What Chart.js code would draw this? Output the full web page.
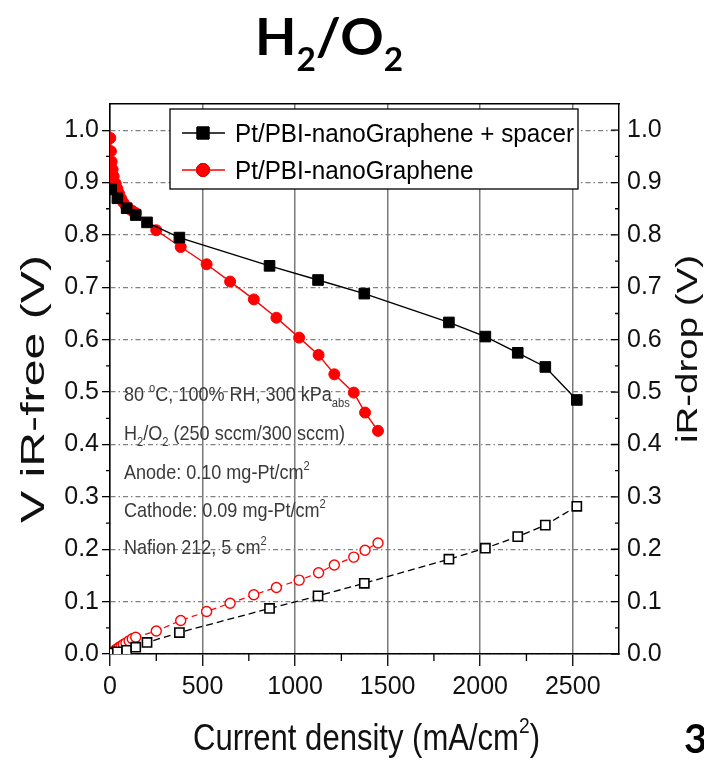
<!DOCTYPE html>
<html>
<head>
<meta charset="utf-8">
<script src="https://cdn.jsdelivr.net/npm/chart.js@4.4.1/dist/chart.umd.min.js"></script>
<style>
  html, body { margin: 0; padding: 0; background: #fff; }
  canvas { display: block; }
</style>
</head>
<body>
<canvas id="grafico" width="704" height="761"></canvas>
<script>
// valores (mA/cm2 e V)
const xSpacer  = [7, 40, 90, 139, 200, 375, 862, 1124, 1374, 1831, 2028, 2203, 2352, 2522];
const vSpacer  = [0.887, 0.870, 0.851, 0.838, 0.824, 0.795, 0.741, 0.714, 0.688, 0.633, 0.606, 0.575, 0.548, 0.485];
const irSpacer = [0.002, 0.004, 0.007, 0.013, 0.022, 0.041, 0.087, 0.111, 0.135, 0.181, 0.202, 0.224, 0.246, 0.282];

const xNano  = [2, 5, 9, 14, 20, 31, 40, 49, 60, 72, 86, 103, 120, 139, 250, 382, 522, 649, 777, 899, 1022, 1127, 1212, 1317, 1378, 1448];
const vNano  = [0.985, 0.960, 0.940, 0.925, 0.912, 0.898, 0.888, 0.879, 0.870, 0.862, 0.855, 0.850, 0.846, 0.842, 0.809, 0.777, 0.744, 0.711, 0.677, 0.642, 0.604, 0.571, 0.534, 0.499, 0.461, 0.426];
const irNano = [0.001, 0.002, 0.003, 0.004, 0.005, 0.008, 0.010, 0.013, 0.015, 0.018, 0.021, 0.025, 0.029, 0.032, 0.044, 0.064, 0.081, 0.097, 0.113, 0.127, 0.141, 0.155, 0.170, 0.185, 0.198, 0.212];

const serieLabels = ["Pt/PBI-nanoGraphene + spacer", "Pt/PBI-nanoGraphene"];
const xTickLabels = ["0", "500", "1000", "1500", "2000", "2500"];
const yTickLabels = ["0.0", "0.1", "0.2", "0.3", "0.4", "0.5", "0.6", "0.7", "0.8", "0.9", "1.0"];

const FONTE = "'Liberation Sans', Arial, sans-serif";
const FONTE_ESTREITA = "'Liberation Sans Narrow', 'Liberation Sans', Arial, sans-serif";

function pontos(xs, ys) {
    return xs.map((x, i) => ({ x: x, y: ys[i] }));
}

// escreve texto com partes sobrescritas/subscritas; devolve a largura
function textoRico(ctx, partes, x, y, tam, familia, peso, escalaX, cor, medir) {
    ctx.save();
    ctx.translate(x, y);
    ctx.scale(escalaX, 1);
    ctx.fillStyle = cor;
    ctx.textAlign = "left";
    ctx.textBaseline = "alphabetic";
    let cx = 0;
    partes.forEach(p => {
        let modo = p[1] || "n";
        let sz = modo === "n" ? tam : tam * 0.62;
        let dy = modo === "sup" ? -tam * 0.45 : (modo === "sub" ? tam * 0.3 : 0);
        ctx.font = peso + " " + sz + "px " + familia;
        if (!medir) ctx.fillText(p[0], cx, dy);
        cx += ctx.measureText(p[0]).width;
    });
    ctx.restore();
    return cx;
}

const notas = [
    [["80 "], ["o", "sup"], ["C, 100% RH, 300 kPa"], ["abs", "sub"]],
    [["H"], ["2", "sub"], ["/O"], ["2", "sub"], [" (250 sccm/300 sccm)"]],
    [["Anode: 0.10 mg-Pt/cm"], ["2", "sup"]],
    [["Cathode: 0.09 mg-Pt/cm"], ["2", "sup"]],
    [["Nafion 212, 5 cm"], ["2", "sup"]]
];
const notasY = [401, 440, 479, 517, 554];

const extras = {
    id: "extras",
    beforeDatasetsDraw(chart) {
        const ctx = chart.ctx;
        const xs = chart.scales.x, ys = chart.scales.y;
        const a = chart.chartArea;
        // ticks menores
        ctx.save();
        ctx.strokeStyle = "#000";
        ctx.lineWidth = 1.3;
        ctx.beginPath();
        for (let v = 250; v < 2750; v += 500) {
            let px = xs.getPixelForValue(v);
            ctx.moveTo(px, a.bottom); ctx.lineTo(px, a.bottom + 7);
        }
        for (let i = 0; i <= 20; i++) {
            let py = ys.getPixelForValue(i * 0.05);
            let maior = i % 2 === 0;
            if (!maior) { ctx.moveTo(a.left, py); ctx.lineTo(a.left - 4, py); }
            ctx.moveTo(a.right, py); ctx.lineTo(a.right - (maior ? 8 : 4), py);
        }
        ctx.stroke();
        ctx.restore();

        // notas de condições
        const escala = 221 / textoRico(ctx, notas[1], 0, 0, 21, FONTE, "normal", 1, "#333", true);
        notas.forEach((n, i) => textoRico(ctx, n, 124, notasY[i], 21, FONTE, "normal", escala, "#3a3a3a"));
    },
    afterDraw(chart) {
        const ctx = chart.ctx;
        // legenda
        ctx.save();
        ctx.fillStyle = "#fff";
        ctx.fillRect(170, 109, 408, 80);
        ctx.strokeStyle = "#000";
        ctx.lineWidth = 1.3;
        ctx.strokeRect(170, 109, 408, 80);
        ctx.restore();
        const linhasY = [133, 170];
        const dsLeg = [chart.data.datasets[2], chart.data.datasets[3]];
        const esc = 339 / textoRico(ctx, [[dsLeg[0].label]], 0, 0, 25, FONTE, "normal", 1, "#000", true);
        dsLeg.forEach((ds, i) => {
            let y = linhasY[i];
            ctx.save();
            ctx.strokeStyle = ds.borderColor;
            ctx.lineWidth = ds.borderWidth;
            ctx.beginPath(); ctx.moveTo(182, y); ctx.lineTo(225, y); ctx.stroke();
            ctx.restore();
            Chart.helpers.drawPoint(ctx, {
                pointStyle: ds.pointStyle, radius: ds.pointRadius + 1, borderWidth: 1,
                rotation: 0
            }, 203, y);
            ctx.save();
            ctx.fillStyle = ds.pointBackgroundColor;
            ctx.strokeStyle = ds.pointBorderColor;
            ctx.fill(); ctx.stroke();
            ctx.restore();
            textoRico(ctx, [[ds.label]], 235, y + 9, 25, FONTE, "normal", esc, "#000");
        });

        // título H2/O2
        const titulo = [["H"], ["2", "sub"], ["/O"], ["2", "sub"]];
        const tw = textoRico(ctx, titulo, 0, 0, 52, "Lato, 'Open Sans', sans-serif", "bold", 1, "#000", true);
        textoRico(ctx, titulo, 329 - 74, 55, 52, "Lato, 'Open Sans', sans-serif", "bold", 148 / tw, "#000");

        // título do eixo x
        const tx = [["Current density (mA/cm"], ["2", "sup"], [")"]];
        const txw = textoRico(ctx, tx, 0, 0, 37, FONTE, "normal", 1, "#111", true);
        textoRico(ctx, tx, 193, 750, 37, FONTE, "normal", 347 / txw, "#111");

        // título eixo esquerdo
        const ty = [["V iR-free (V)"]];
        const tyw = textoRico(ctx, ty, 0, 0, 34, FONTE, "normal", 1, "#111", true);
        ctx.save();
        ctx.translate(44, 389);
        ctx.rotate(-Math.PI / 2);
        textoRico(ctx, ty, -134, 0, 34, FONTE, "normal", 268 / tyw, "#111");
        ctx.restore();

        // título eixo direito
        const ty2 = [["iR-drop (V)"]];
        const ty2w = textoRico(ctx, ty2, 0, 0, 30, FONTE, "normal", 1, "#111", true);
        ctx.save();
        ctx.translate(697, 349);
        ctx.rotate(-Math.PI / 2);
        textoRico(ctx, ty2, -94, 0, 30, FONTE, "normal", 188 / ty2w, "#111");
        ctx.restore();

        // número do slide
        textoRico(ctx, [["3"]], 684, 753, 40, "Lato, 'Open Sans', sans-serif", "bold", 1, "#000");
    }
};

const tickFonte = { family: FONTE_ESTREITA, size: 25 };

new Chart(document.getElementById("grafico"), {
    type: "line",
    data: {
        datasets: [
            {
                label: "iR spacer",
                data: pontos(xSpacer, irSpacer),
                yAxisID: "y2",
                borderColor: "#000",
                borderWidth: 1.3,
                borderDash: [7, 4],
                pointStyle: "rect",
                pointRadius: 6.5,
                pointBackgroundColor: "#fff",
                pointBorderColor: "#000",
                pointBorderWidth: 1.6
            },
            {
                label: "iR nano",
                data: pontos(xNano, irNano),
                yAxisID: "y2",
                borderColor: "#ff0000",
                borderWidth: 1.2,
                borderDash: [6, 4],
                pointStyle: "circle",
                pointRadius: 5,
                pointBackgroundColor: "#fff",
                pointBorderColor: "#ff0000",
                pointBorderWidth: 1.4
            },
            {
                label: serieLabels[0],
                data: pontos(xSpacer, vSpacer),
                yAxisID: "y",
                borderColor: "#000",
                borderWidth: 1.4,
                pointStyle: "rect",
                pointRadius: 7.5,
                pointBackgroundColor: "#000",
                pointBorderColor: "#000",
                pointBorderWidth: 1
            },
            {
                label: serieLabels[1],
                data: pontos(xNano, vNano),
                yAxisID: "y",
                borderColor: "#ff0000",
                borderWidth: 1.4,
                pointStyle: "circle",
                pointRadius: 5.5,
                pointBackgroundColor: "#ff0000",
                pointBorderColor: "#ff0000",
                pointBorderWidth: 1
            }
        ]
    },
    options: {
        responsive: false,
        animation: false,
        events: [],
        layout: { padding: 0 },
        elements: { line: { tension: 0 } },
        plugins: { legend: { display: false }, title: { display: false }, tooltip: { enabled: false } },
        scales: {
            x: {
                type: "linear",
                position: "bottom",
                min: 0, max: 2750,
                afterFit: s => { s.height = 107; },
                afterBuildTicks: s => { s.ticks = xTickLabels.map((t, i) => ({ value: i * 500 })); },
                ticks: {
                    autoSkip: false, maxRotation: 0, padding: 6,
                    color: "#111", font: tickFonte,
                    callback: (v, i) => xTickLabels[i]
                },
                grid: { color: "#7a7a7a", lineWidth: 1.5, tickColor: "#000", tickLength: 12, tickWidth: 1.3 },
                border: { color: "#000", width: 1.5 }
            },
            x2: {
                type: "linear",
                position: "top",
                min: 0, max: 2750,
                afterFit: s => { s.height = 104; },
                ticks: { display: false },
                grid: { drawOnChartArea: false, drawTicks: false },
                border: { color: "#000", width: 1.5 }
            },
            y: {
                type: "linear",
                position: "left",
                min: 0, max: 1.05,
                afterFit: s => { s.width = 110; },
                ticks: {
                    stepSize: 0.1, includeBounds: false, padding: 3,
                    color: "#111", font: tickFonte,
                    callback: (v) => yTickLabels[Math.round(v * 10)]
                },
                grid: { color: "#808080", lineWidth: 1.3, tickColor: "#000", tickLength: 8, tickWidth: 1.3, tickBorderDash: [] },
                border: { color: "#000", width: 1.5, dash: [5, 3, 1.5, 3] }
            },
            y2: {
                type: "linear",
                position: "right",
                min: 0, max: 1.05,
                afterFit: s => { s.width = 85; },
                ticks: {
                    stepSize: 0.1, includeBounds: false, padding: 8,
                    color: "#111", font: tickFonte,
                    callback: (v) => yTickLabels[Math.round(v * 10)]
                },
                grid: { drawOnChartArea: false, drawTicks: false },
                border: { color: "#000", width: 1.5 }
            }
        }
    },
    plugins: [extras]
});
</script>
</body>
</html>
